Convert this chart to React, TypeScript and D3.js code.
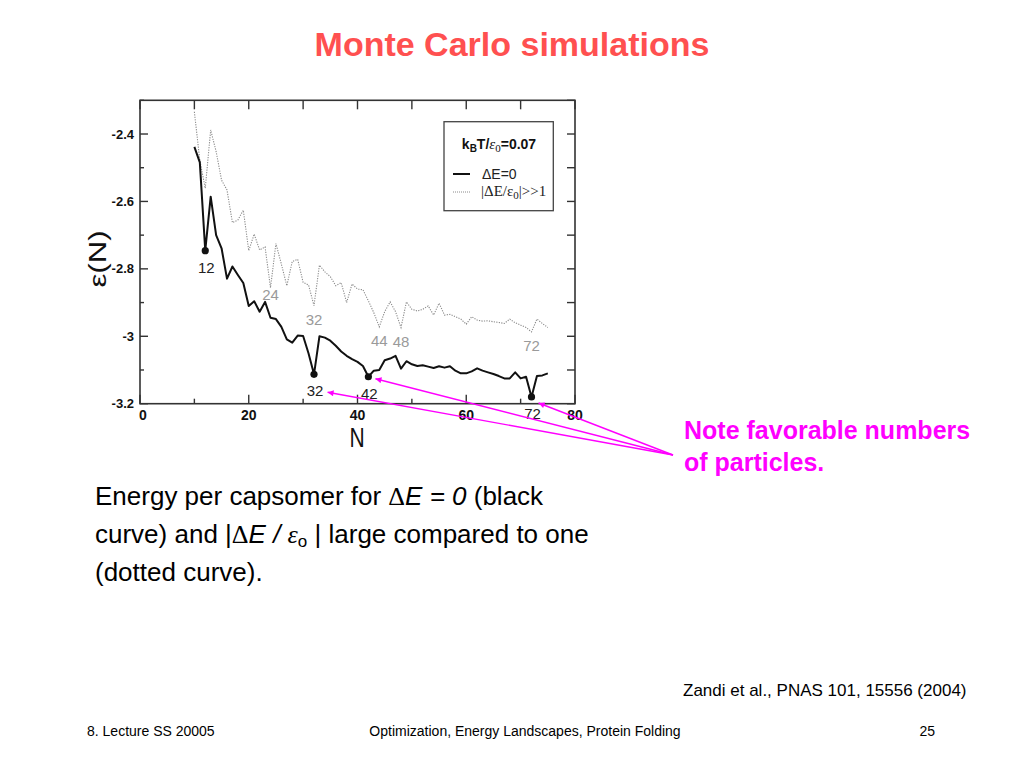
import * as d3 from "d3";

// plot frame in page pixels
const frame = { left: 140, right: 575, top: 100.3, bottom: 403.7 };

const xTicksMajor = [0, 20, 40, 60, 80];
const xTicksMinor = [10, 30, 50, 70];
const yTicksMajor = [-2.4, -2.6, -2.8, -3, -3.2];
const yTicksMinor = [-2.3, -2.5, -2.7, -2.9, -3.1];
const yTickLabels = ["-2.4", "-2.6", "-2.8", "-3", "-3.2"];

// N = 10 .. 75
const nValues = d3.range(10, 76);

// ΔE = 0 (solid black)
const epsSolid = [
  -2.438, -2.484, -2.746, -2.586, -2.7, -2.739, -2.829, -2.793, -2.818, -2.842,
  -2.91, -2.896, -2.927, -2.898, -2.945, -2.949, -2.972, -3.009, -3.019, -2.998,
  -2.999, -3.051, -3.113, -3.0, -3.004, -3.013, -3.028, -3.045, -3.058, -3.068,
  -3.076, -3.088, -3.12, -3.102, -3.1, -3.071, -3.066, -3.058, -3.096, -3.074,
  -3.083, -3.088, -3.086, -3.09, -3.094, -3.089, -3.093, -3.089, -3.102, -3.11,
  -3.11, -3.104, -3.095, -3.102, -3.107, -3.112, -3.118, -3.125, -3.125, -3.107,
  -3.125, -3.12, -3.18, -3.118, -3.116, -3.11,
];

// |ΔE/ε0| >> 1 (dotted grey)
const epsDotted = [
  -2.334, -2.478, -2.561, -2.388, -2.452, -2.537, -2.566, -2.663, -2.655, -2.626,
  -2.746, -2.697, -2.744, -2.735, -2.856, -2.725, -2.786, -2.85, -2.778, -2.772,
  -2.84, -2.848, -2.909, -2.789, -2.809, -2.823, -2.85, -2.841, -2.9, -2.845,
  -2.86, -2.862, -2.895, -2.93, -2.972, -2.927, -2.898, -2.927, -2.974, -2.898,
  -2.92, -2.925, -2.92, -2.91, -2.937, -2.902, -2.937, -2.935, -2.942, -2.949,
  -2.964, -2.942, -2.952, -2.955, -2.954, -2.957, -2.959, -2.962, -2.949, -2.96,
  -2.967, -2.974, -2.987, -2.949, -2.962, -2.974,
];

const magicSolid = [12, 32, 42, 72];
const magicDotted = [24, 32, 44, 48, 72];

// arrow tips (N, ε) pointing at the favourable numbers
const arrowTips: [number, number][] = [
  [34.5, -3.166],
  [43.3, -3.126],
  [73.3, -3.198],
];

const magenta = "#ff00ff";
const sans = "'Liberation Sans', Arial, sans-serif";
const serif = "'Liberation Serif', 'Times New Roman', serif";

export default function App() {
  const x = d3.scaleLinear([0, 80], [frame.left, frame.right]);
  const y = d3.scaleLinear([-3.2, -2.3], [frame.bottom, frame.top]);

  const line = d3
    .line<number>()
    .x((_, i) => x(nValues[i]))
    .y((d) => y(d));

  const valueAt = (arr: number[], n: number) => arr[nValues.indexOf(n)];

  const arrowFrom: [number, number] = [673, 455];

  return (
    <svg
      width={1024}
      height={768}
      style={{ position: "absolute", left: 0, top: 0, background: "#fff" }}
      fontFamily={sans}
    >
      <rect width={1024} height={768} fill="#fff" />

      {/* slide title */}
      <text x={512} y={56} textAnchor="middle" fontSize={34} fontWeight="bold" fill="#ff5050">
        Monte Carlo simulations
      </text>

      {/* plot frame */}
      <rect
        x={frame.left}
        y={frame.top}
        width={frame.right - frame.left}
        height={frame.bottom - frame.top}
        fill="none"
        stroke="#333"
        strokeWidth={1.6}
      />

      {/* ticks */}
      <g stroke="#333" strokeWidth={1.4}>
        {xTicksMajor.map((t) => (
          <line key={"xb" + t} x1={x(t)} x2={x(t)} y1={frame.bottom} y2={frame.bottom - 9} />
        ))}
        {xTicksMinor.map((t) => (
          <line key={"xbm" + t} x1={x(t)} x2={x(t)} y1={frame.bottom} y2={frame.bottom - 5} />
        ))}
        {[...xTicksMajor, ...xTicksMinor].map((t) => (
          <line key={"xt" + t} x1={x(t)} x2={x(t)} y1={frame.top} y2={frame.top + 9} />
        ))}
        {yTicksMajor.map((t) => (
          <line key={"yl" + t} x1={frame.left} x2={frame.left + 8} y1={y(t)} y2={y(t)} />
        ))}
        {yTicksMinor.map((t) => (
          <line key={"ylm" + t} x1={frame.left} x2={frame.left + 4} y1={y(t)} y2={y(t)} />
        ))}
        {[...yTicksMajor, ...yTicksMinor].map((t) => (
          <line key={"yr" + t} x1={frame.right} x2={frame.right - 8} y1={y(t)} y2={y(t)} />
        ))}
      </g>

      {/* tick labels */}
      <g fontWeight="bold" fill="#111">
        {yTicksMajor.map((t, i) => (
          <text key={"yl" + t} x={frame.left - 6} y={y(t) + 4.5} textAnchor="end" fontSize={13}>
            {yTickLabels[i]}
          </text>
        ))}
        {xTicksMajor.map((t) => (
          <text key={"xl" + t} x={x(t) + (t === 0 ? 3 : 0)} y={frame.bottom + 16} textAnchor="middle" fontSize={14}>
            {t}
          </text>
        ))}
      </g>

      {/* axis titles */}
      <text
        transform={`translate(357,447) scale(0.75,1)`}
        textAnchor="middle"
        fontSize={28}
        fill="#111"
      >
        N
      </text>
      <text
        transform={`translate(106,259) rotate(-90) scale(1.3,1)`}
        textAnchor="middle"
        fontSize={24}
        fill="#111"
      >
        ε(N)
      </text>

      {/* curves */}
      <path d={line(epsDotted) ?? ""} fill="none" stroke="#8a8a8a" strokeWidth={1.1} strokeDasharray="1.2,1.3" />
      <path d={line(epsSolid) ?? ""} fill="none" stroke="#111" strokeWidth={2} strokeLinejoin="round" />

      {magicSolid.map((n) => (
        <circle key={"d" + n} cx={x(n)} cy={y(valueAt(epsSolid, n))} r={3.6} fill="#111" />
      ))}

      {/* labels of magic numbers */}
      <g fontSize={15} textAnchor="middle">
        {magicSolid.map((n) => (
          <text key={"ls" + n} x={x(n) + 1} y={y(valueAt(epsSolid, n)) + 22} fill="#222">
            {n}
          </text>
        ))}
        {magicDotted.map((n) => (
          <text key={"ld" + n} x={x(n)} y={y(valueAt(epsDotted, n)) + (n === 24 ? 12 : 19)} fill="#9a9a9a">
            {n}
          </text>
        ))}
      </g>

      {/* legend */}
      <rect x={444} y={121.7} width={109.3} height={89} fill="#fff" stroke="#444" strokeWidth={1.3} />
      <text x={499} y={149} textAnchor="middle" fontSize={14} fontWeight="bold" fill="#111">
        k<tspan fontSize={10} dy={3}>B</tspan>
        <tspan dy={-3}>T/</tspan>
        <tspan fontFamily={serif} fontWeight="normal" fontStyle="italic" fontSize={15}>ε</tspan>
        <tspan fontFamily={serif} fontWeight="normal" fontSize={11} dy={3}>0</tspan>
        <tspan dy={-3}>=0.07</tspan>
      </text>
      <line x1={453} x2={470} y1={174} y2={174} stroke="#111" strokeWidth={2} />
      <text x={482} y={179} fontSize={14} fill="#222">ΔE=0</text>
      <line x1={453} x2={470} y1={192} y2={192} stroke="#8a8a8a" strokeWidth={1} strokeDasharray="1,1" />
      <text x={481} y={196} fontSize={15} fontFamily={serif} fill="#222">
        |ΔE/ε<tspan fontSize={11} dy={3}>0</tspan>
        <tspan dy={-3}>|&gt;&gt;1</tspan>
      </text>

      {/* annotation arrows */}
      <defs>
        <marker id="ah" viewBox="0 0 10 10" refX={10} refY={5} markerWidth={8} markerHeight={6} orient="auto" markerUnits="userSpaceOnUse">
          <path d="M0,0 L10,5 L0,10 z" fill={magenta} />
        </marker>
      </defs>
      {arrowTips.map(([n, e], i) => (
        <line
          key={"a" + i}
          x1={arrowFrom[0]}
          y1={arrowFrom[1]}
          x2={x(n)}
          y2={y(e)}
          stroke={magenta}
          strokeWidth={1.4}
          markerEnd="url(#ah)"
        />
      ))}

      <g fontSize={25} fontWeight="bold" fill={magenta}>
        <text x={684} y={439}>Note favorable numbers</text>
        <text x={684} y={471}>of particles.</text>
      </g>

      {/* caption */}
      <g fontSize={26} fill="#000">
        <text x={95} y={505}>
          Energy per capsomer for <tspan fontFamily={serif}>Δ</tspan>
          <tspan fontStyle="italic">E = 0</tspan> (black
        </text>
        <text x={95} y={543}>
          curve) and |<tspan fontFamily={serif}>Δ</tspan>
          <tspan fontStyle="italic">E / </tspan>
          <tspan fontFamily={serif} fontStyle="italic">ε</tspan>
          <tspan fontSize={17} dy={4}>o</tspan>
          <tspan dy={-4}> | large compared to one</tspan>
        </text>
        <text x={95} y={581}>(dotted curve).</text>
      </g>

      <text x={683} y={696} fontSize={17} fill="#000">
        Zandi et al., PNAS 101, 15556 (2004)
      </text>

      {/* footer */}
      <g fontSize={14} fill="#000">
        <text x={87} y={736}>8. Lecture SS 20005</text>
        <text x={525} y={736} textAnchor="middle">
          Optimization, Energy Landscapes, Protein Folding
        </text>
        <text x={935} y={736} textAnchor="end">25</text>
      </g>
    </svg>
  );
}
